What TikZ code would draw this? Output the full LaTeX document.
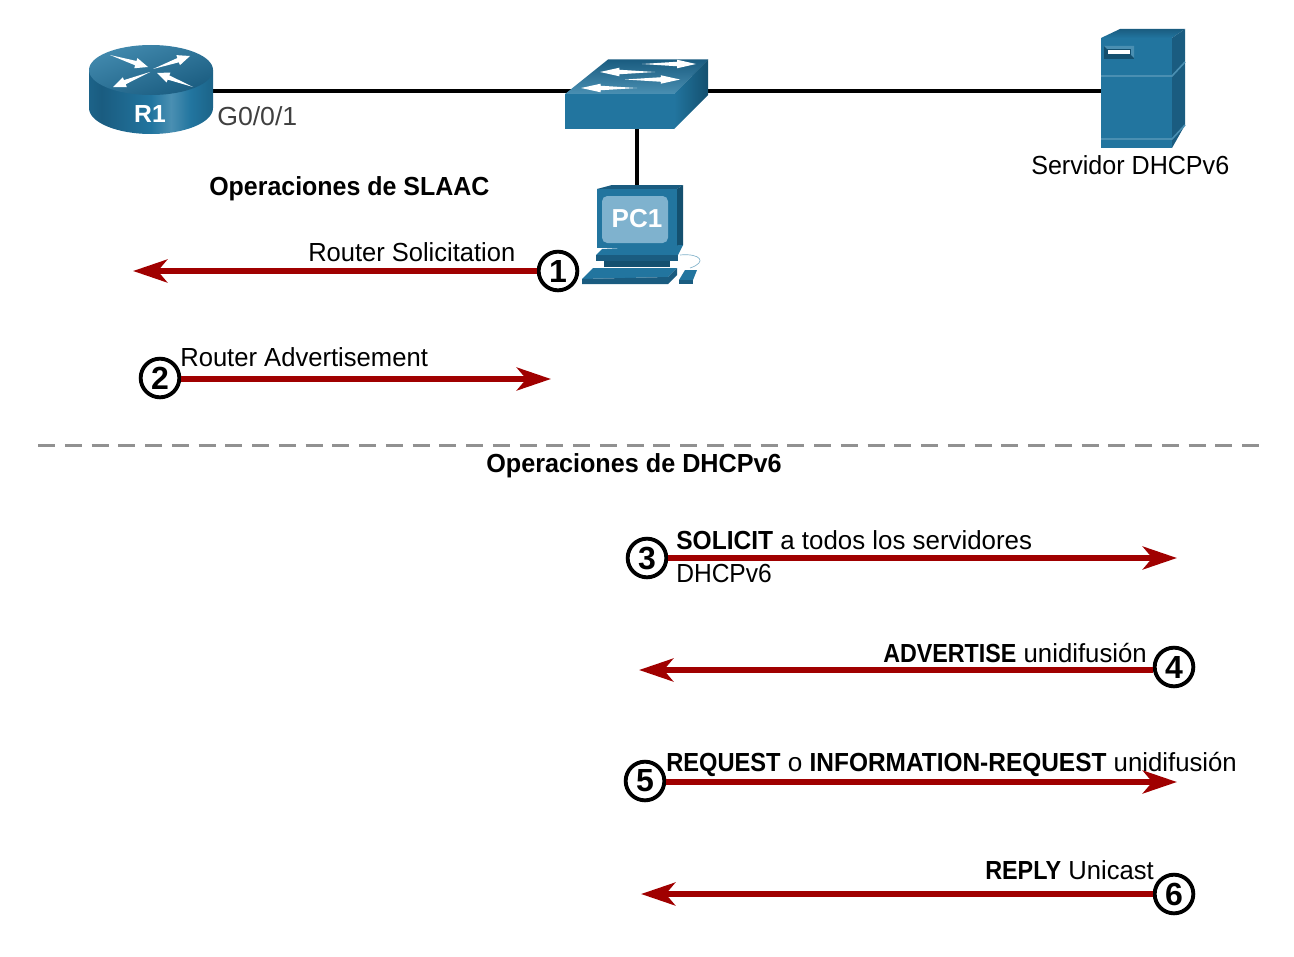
\documentclass[tikz,border=0pt]{standalone}
\usepackage{graphicx}
\usepackage{fontspec}
\setmainfont{Liberation Sans}
\usetikzlibrary{arrows.meta,calc}
\definecolor{ciscoblue}{HTML}{22759F}
\definecolor{ciscodark}{HTML}{1A5C80}
\definecolor{ciscodeep}{HTML}{14506F}
\definecolor{ciscolight}{HTML}{4A8FB2}
\definecolor{screenblue}{HTML}{7FB2CE}
\definecolor{msgred}{HTML}{A00000}
\pgfdeclarehorizontalshading{routerbody}{100bp}{
 color(0bp)=(ciscodark); color(12bp)=(ciscoblue); color(30bp)=(ciscodark); color(50bp)=(ciscoblue);
 color(58bp)=(ciscolight); color(66bp)=(ciscoblue); color(85bp)=(ciscodeep); color(100bp)=(ciscodeep)}
\newcommand{\hs}[2]{\scalebox{#1}[1]{#2}}
% tapered white arrow: tail, tip, shaft half width, head half width, head start
\newcommand{\tarr}[6]{%
 \coordinate (ta) at (#1); \coordinate (tb) at (#2); \coordinate (tp) at ($(ta)!#5!(tb)$);
 \path[fill=#6] (ta) -- ($(tp)!#3!90:(tb)$) -- ($(tp)!#4!90:(tb)$) -- (tb) -- ($(tp)!#4!-90:(tb)$) -- ($(tp)!#3!-90:(tb)$) -- cycle;}
\tikzset{
 x=0.75pt,y=-0.75pt,
 every node/.style={font=\fontsize{19.6pt}{25pt}\selectfont,inner sep=0pt,text=black},
 msg/.style={draw=msgred,line width=5pt,-{Stealth[length=25.5pt,width=17pt,inset=7pt,fill=msgred]}},
 numcirc/.style={circle,draw=black,fill=white,line width=2.9pt,minimum size=29pt,font=\fontsize{24pt}{24pt}\selectfont\bfseries},
 lbl/.style={anchor=west,align=left},
 heading/.style={font=\fontsize{19.6pt}{25pt}\selectfont\bfseries},
 wire/.style={draw=black,line width=3.4pt},
 dev/.style={draw=none,fill=ciscoblue},
 devside/.style={draw=none,fill=ciscodark},
}
\begin{document}
\begin{tikzpicture}
\useasboundingbox (0,0) rectangle (1294,956);

% named anchors for devices and connector ends
\coordinate (r1port) at (205,91);
\coordinate (swl) at (575,91);
\coordinate (swr) at (700,91);
\coordinate (srvl) at (1105,91);
\coordinate (swb) at (637,125);
\coordinate (pct) at (637,189);
\draw[wire] (r1port) -- (swl);
\draw[wire] (swr) -- (srvl);
\draw[wire] (swb) -- (pct);

% router
\path[shading=routerbody] (89,70) -- (89,108) .. controls (89,122.4) and (116.8,134) .. (151,134)
  .. controls (185.2,134) and (213,122.4) .. (213,108) -- (213,70) -- cycle;
\path[left color=ciscolight!80!ciscoblue,right color=ciscodark,shading angle=20] (151,70) ellipse[x radius=62,y radius=25];
\tarr{110,55}{148,67}{1.7pt}{4pt}{.68}{white}
\tarr{153,69}{190,56}{1.7pt}{4pt}{.68}{white}
\tarr{193,87}{157,73}{1.7pt}{4pt}{.68}{white}
\tarr{150,72}{113,87}{1.7pt}{4pt}{.68}{white}
\node[font=\fontsize{18.5pt}{20pt}\selectfont\bfseries,text=white] (r1) at (150,114) {R1};
\node[lbl,text=black!75] (port) at (217,116) {\hs{1.02}{G0/0/1}};

% switch
\path[top color=ciscodark,bottom color=ciscolight] (565,94) -- (608,59.5) -- (708,59.5) -- (674,94) -- cycle;
\path[left color=ciscoblue,right color=ciscodeep] (674,94) -- (708,59.5) -- (708,95) -- (674,129) -- cycle;
\path[dev] (565,94) rectangle (674,129);
\tarr{642,64}{696,64}{1.7pt}{3.2pt}{.65}{white}
\tarr{655,72}{600,72}{1.7pt}{3.2pt}{.65}{white}
\tarr{625,79.5}{680,79.5}{1.7pt}{3.2pt}{.65}{white}
\tarr{637,88}{581,88}{1.7pt}{3.2pt}{.65}{white}

% server
\path[top color=ciscodark,bottom color=ciscoblue] (1101,38) -- (1120,29) -- (1185,29) -- (1172,38) -- cycle;
\path[devside] (1172,38) -- (1185,29) -- (1185,125) -- (1172,148) -- cycle;
\path[dev] (1101,38) rectangle (1172,148);
\draw[ciscolight,line width=1.2pt] (1101,76) -- (1172,76) -- (1185,62);
\draw[ciscolight,line width=1.2pt] (1101,139) -- (1172,139) -- (1185,125);
\path[fill=ciscodeep] (1104,46) rectangle (1134,59);
\path[fill=ciscolight] (1104,46) -- (1134,46) -- (1134,58) -- (1131,55) -- (1131,49) -- (1107,49) -- cycle;
\path[fill=white] (1108,50.5) rectangle (1130,54);
\node[lbl] (srv) at (1031,165) {\hs{.96}{Servidor DHCPv6}};

% PC
\path[devside] (597,189) -- (612,185) -- (683,185) -- (677,189) -- cycle;
\path[fill=ciscodeep] (677,189) -- (683,185) -- (683,245) -- (677,249) -- cycle;
\path[dev] (597,189) rectangle (677,248);
\path[fill=screenblue,rounded corners=4pt] (602,196) rectangle (668,243);
\node[font=\fontsize{19.5pt}{20pt}\selectfont\bfseries,text=white] (pc1) at (637,219) {PC1};
\path[dev] (602,249) -- (683,245) -- (678,255) -- (596,255) -- cycle;
\path[devside] (596,255) rectangle (678,261);
\path[fill=ciscodeep] (604,261) rectangle (670,267);
\path[dev] (593,268) -- (677,268) -- (668,277) -- (582,279) -- cycle;
\path[devside] (582,279) -- (668,277) -- (677,268) -- (677,275) -- (668,284) -- (582,284) -- cycle;
\path[dev] (685,270) -- (697,270) -- (693,280) -- (679,280) -- cycle;
\path[devside] (679,280) rectangle (693,284);
\draw[ciscolight!70,line width=.5pt] (680,255) .. controls (700,253) and (708,262) .. (690,268);

% headings
\node[heading,lbl] (slaac) at (209,189) {\hs{.955}{Operaciones de SLAAC}};
\node[heading,lbl] (dhcp) at (486,466) {\hs{.964}{Operaciones de DHCPv6}};

% divider
\coordinate (dl) at (38,445.5);
\coordinate (dr) at (1259,445.5);
\draw[draw=black!43,line width=2.4pt,dash pattern=on 12.75pt off 7.32pt] (dl) -- (dr);

% messages
\node[numcirc] (n1) at (558,271) {1};
\node[numcirc] (n2) at (160,378) {2};
\node[numcirc] (n3) at (647,558) {3};
\node[numcirc] (n4) at (1174,667) {4};
\node[numcirc] (n5) at (645,781) {5};
\node[numcirc] (n6) at (1174,894) {6};
\coordinate (e1) at (133,271);
\coordinate (e2) at (551,379);
\coordinate (e3) at (1177,558);
\coordinate (e4) at (639,670);
\coordinate (e5) at (1177,782);
\coordinate (e6) at (641,894);
\draw[msg] (n1.west |- e1) -- (e1);
\draw[msg] (n2.east |- e2) -- (e2);
\draw[msg] (n3.east |- e3) -- (e3);
\draw[msg] (n4.west |- e4) -- (e4);
\draw[msg] (n5.east |- e5) -- (e5);
\draw[msg] (n6.west |- e6) -- (e6);

\node[lbl] (t1) at (308,252) {\hs{.976}{Router Solicitation}};
\node[lbl] (t2) at (180,357) {\hs{.98}{Router Advertisement}};
\node[lbl] (t3a) at (676,540) {\hs{.94}{\textbf{SOLICIT}} \hs{.99}{a todos los servidores}};
\node[lbl] (t3b) at (676,573) {\hs{.94}{DHCPv6}};
\node[anchor=east] (t4) at (1147,653) {\hs{.89}{\textbf{ADVERTISE}} \hs{.985}{unidifusión}};
\node[lbl] (t5) at (666,764) {\hs{.905}{\textbf{REQUEST}} o \hs{.935}{\textbf{INFORMATION-REQUEST}} \hs{.985}{unidifusión}};
\node[anchor=east] (t6) at (1154,870) {\hs{.895}{\textbf{REPLY}} \hs{.98}{Unicast}};
\end{tikzpicture}
\end{document}
